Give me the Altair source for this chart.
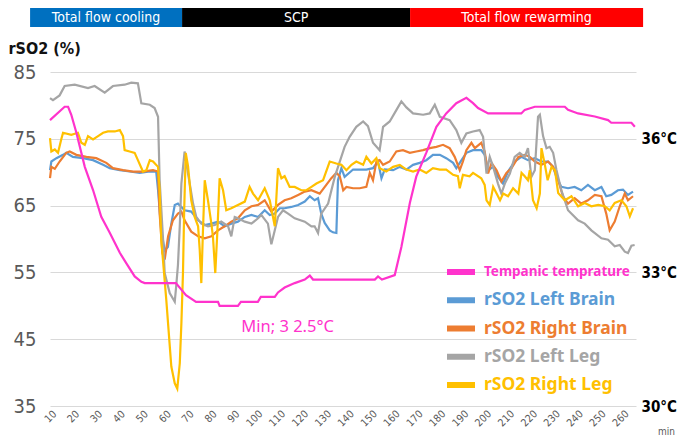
import altair as alt
import pandas as pd

# ---------------- data (minutes, value) ----------------
X_TICKS = list(range(10, 261, 10))
Y_TICKS = [35, 45, 55, 65, 75, 85]
TEMP_TICKS = [30, 33, 36]

# tympanic temperature (deg C)
TEMP = [(8, 36.42), (14.4, 36.72), (15.9, 36.72), (17.3, 36.54), (19.5, 36.14), (23.2, 35.37),
        (26.8, 34.85), (30.4, 34.25), (34.1, 33.89), (38.5, 33.44), (41.3, 33.21), (45.0, 32.91),
        (47.9, 32.79), (49.4, 32.76), (63.0, 32.76), (67.4, 32.49), (71.8, 32.34), (81.4, 32.34),
        (82.1, 32.25), (90.1, 32.25), (91.4, 32.34), (98.8, 32.34), (100.1, 32.45), (106.2, 32.45),
        (107.6, 32.55), (110.5, 32.66), (114.9, 32.76), (119.3, 32.84), (121.5, 32.93), (122.9, 32.84),
        (149.9, 32.84), (151.3, 32.91), (153.0, 32.84), (158.6, 32.94), (161.5, 33.57), (165.2, 34.56),
        (168.0, 35.15), (172.4, 35.69), (176.8, 36.27), (181.1, 36.57), (185.5, 36.80), (189.9, 36.92),
        (192.8, 36.80), (195.0, 36.69), (199.4, 36.57), (213.9, 36.57), (215.4, 36.65), (219.8, 36.72),
        (232.9, 36.72), (234.3, 36.65), (238.7, 36.57), (246.0, 36.50), (251.8, 36.42), (253.2, 36.36),
        (262.0, 36.36), (263.5, 36.27)]

LEFT_BRAIN = [(8, 70.3), (8.6, 71.6), (10.8, 72.1), (13.7, 72.6), (15.1, 72.9), (18.0, 72.3), (22.4, 72.1),
              (26.8, 71.8), (31.2, 71.1), (34.1, 70.6), (38.5, 70.3), (42.8, 70.1), (47.2, 69.9), (51.6, 70.1),
              (54.4, 70.1), (55.2, 67.3), (56.6, 61.3), (58.1, 58.3), (59.5, 58.8), (61.0, 62.3), (62.5, 65.1),
              (63.9, 65.3), (65.4, 64.8), (66.8, 64.3), (69.7, 64.1), (72.7, 62.8), (75.6, 62.1), (78.5, 62.3),
              (81.4, 62.6), (84.3, 61.9), (87.2, 62.3), (90.1, 62.6), (93.1, 63.3), (96.0, 63.6), (98.9, 63.3),
              (101.8, 64.3), (104.0, 63.6), (106.2, 63.8), (108.4, 64.6), (110.5, 64.6), (113.4, 64.8),
              (116.4, 65.1), (119.3, 65.6), (121.5, 66.4), (123.6, 65.8), (125.1, 66.1), (126.5, 63.8),
              (128.0, 62.4), (130.2, 61.3), (131.6, 61.0), (133.1, 60.9), (133.8, 68.8), (135.3, 70.6),
              (136.7, 69.3), (140.4, 70.4), (143.3, 70.4), (146.2, 70.4), (149.1, 70.6), (151.3, 71.6),
              (152.8, 69.1), (154.2, 70.4), (157.9, 70.3), (160.8, 70.8), (163.7, 70.4), (166.6, 71.1),
              (169.5, 71.4), (172.4, 71.8), (175.3, 72.6), (178.3, 72.6), (181.1, 72.1), (184.1, 71.4),
              (185.5, 70.6), (187.0, 71.4), (189.9, 72.9), (192.8, 73.3), (196.4, 73.3), (197.9, 72.6),
              (199.4, 70.3), (201.6, 70.8), (203.7, 69.3), (205.9, 68.3), (208.1, 70.1), (211.0, 71.6),
              (213.9, 72.3), (216.8, 71.8), (219.8, 72.1), (222.7, 71.6), (225.6, 71.6), (227.8, 70.8),
              (229.2, 69.3), (231.4, 67.8), (234.3, 67.6), (237.2, 67.8), (240.1, 67.3), (243.0, 68.1),
              (246.0, 67.3), (248.9, 67.8), (251.0, 66.4), (253.2, 66.6), (256.1, 67.3), (258.3, 67.4),
              (260.5, 66.6), (262.7, 67.1)]

RIGHT_BRAIN = [(8, 69.1), (8.6, 70.8), (10.1, 70.5), (12.2, 71.6), (15.1, 72.9), (16.6, 73.1), (19.5, 72.6),
               (23.9, 72.3), (28.2, 72.1), (32.6, 71.4), (35.5, 70.6), (39.9, 70.3), (44.3, 70.1), (48.6, 70.1),
               (53.0, 70.3), (55.2, 70.1), (55.9, 63.8), (57.1, 57.9), (58.1, 56.9), (59.6, 60.4), (61.7, 62.8),
               (63.9, 63.8), (65.4, 64.1), (66.8, 62.8), (69.7, 61.1), (72.7, 60.4), (75.6, 60.1), (78.5, 60.4),
               (81.4, 61.3), (84.3, 61.9), (87.2, 62.6), (90.1, 63.1), (93.1, 64.3), (96.0, 64.9), (98.9, 65.1),
               (101.8, 65.8), (104.7, 64.1), (107.6, 65.1), (110.5, 65.8), (113.4, 66.1), (116.4, 66.6),
               (119.3, 67.1), (122.2, 67.3), (125.8, 66.8), (128.7, 68.1), (130.9, 69.1), (133.1, 69.9),
               (134.6, 69.4), (136.1, 67.3), (137.5, 67.8), (140.4, 67.6), (143.3, 67.6), (146.2, 67.8),
               (147.7, 69.9), (149.1, 68.8), (150.6, 71.6), (152.0, 71.8), (153.5, 71.1), (156.4, 71.6),
               (159.3, 73.1), (162.2, 73.3), (165.2, 72.9), (168.0, 73.1), (171.0, 73.3), (173.9, 73.6),
               (176.8, 73.8), (179.7, 74.1), (182.6, 73.6), (184.8, 72.3), (187.0, 70.3), (188.4, 71.6),
               (189.9, 73.3), (192.1, 74.4), (193.6, 73.6), (196.4, 74.4), (197.9, 73.1), (199.4, 69.8),
               (200.9, 71.4), (203.1, 70.3), (205.2, 68.6), (207.4, 69.9), (209.6, 70.6), (212.6, 72.3),
               (215.4, 72.6), (217.6, 72.3), (219.8, 71.6), (222.7, 71.1), (225.6, 71.6), (227.8, 70.8),
               (230.0, 68.8), (232.1, 66.4), (234.3, 65.3), (237.2, 66.1), (240.1, 65.3), (243.0, 65.8),
               (246.0, 66.6), (248.9, 66.4), (251.0, 63.8), (252.5, 61.3), (254.7, 62.6), (256.9, 64.9),
               (259.1, 66.8), (260.5, 65.8), (262.7, 66.4)]

LEFT_LEG = [(8, 81.1), (9.3, 80.8), (12.2, 81.5), (14.4, 82.9), (18.8, 83.1), (24.6, 82.6), (27.5, 82.9),
            (31.9, 81.9), (35.5, 82.9), (40.6, 83.1), (43.5, 83.4), (46.4, 83.3), (47.9, 80.3), (51.6, 80.1),
            (53.7, 79.6), (55.2, 78.3), (55.9, 68.8), (57.4, 59.9), (58.1, 54.9), (60.3, 51.9), (62.5, 50.6),
            (63.2, 53.2), (63.9, 56.1), (64.7, 62.0), (65.4, 68.3), (66.8, 73.1), (68.3, 69.8), (70.5, 65.3),
            (71.9, 63.3), (74.1, 62.3), (77.0, 61.9), (80.0, 62.1), (82.8, 62.6), (85.8, 61.9), (87.2, 60.4),
            (88.7, 63.3), (90.1, 63.1), (93.1, 62.6), (96.0, 62.3), (98.9, 63.1), (100.3, 63.6), (103.2, 62.3),
            (104.7, 59.2), (106.2, 61.3), (107.6, 63.3), (109.8, 64.3), (112.0, 63.8), (114.9, 63.1),
            (119.3, 62.6), (122.2, 61.9), (123.6, 61.9), (125.1, 60.9), (126.5, 63.8), (129.5, 65.3),
            (132.4, 69.3), (136.7, 73.8), (138.9, 75.3), (141.8, 76.8), (144.8, 77.6), (146.9, 76.9),
            (149.1, 74.4), (152.0, 73.3), (153.5, 76.8), (156.4, 77.6), (159.3, 79.3), (161.5, 80.6),
            (163.7, 79.7), (166.6, 78.8), (171.0, 78.6), (173.9, 78.8), (176.1, 80.1), (178.3, 78.3),
            (182.6, 77.8), (185.5, 76.3), (187.7, 74.4), (189.9, 75.8), (192.8, 76.1), (195.7, 76.3),
            (197.2, 75.3), (198.7, 69.8), (200.1, 72.3), (201.6, 70.8), (203.7, 68.3), (205.2, 66.8),
            (206.7, 68.3), (208.9, 69.8), (211.0, 72.3), (213.2, 72.9), (215.4, 72.3), (216.8, 73.6),
            (218.3, 69.3), (219.8, 70.3), (221.2, 78.3), (222.0, 78.6), (223.4, 75.4), (224.9, 73.6),
            (226.3, 73.8), (227.8, 72.9), (229.2, 70.4), (231.4, 67.3), (234.3, 64.3), (238.7, 62.8),
            (241.6, 62.3), (244.5, 61.3), (248.9, 60.1), (251.8, 59.9), (254.7, 58.9), (256.9, 59.1),
            (259.1, 58.1), (260.5, 57.9), (262.0, 59.0), (263.4, 59.1)]

RIGHT_LEG = [(8, 75.1), (8.6, 73.1), (10.1, 73.4), (11.5, 72.9), (12.9, 74.9), (13.7, 75.9), (17.3, 75.6),
             (20.2, 75.9), (21.7, 74.4), (23.2, 74.1), (24.6, 75.4), (26.8, 74.9), (29.0, 75.4), (31.2, 75.9),
             (33.3, 76.1), (36.3, 76.1), (38.5, 76.3), (39.9, 75.4), (40.6, 73.3), (42.8, 73.1), (45.0, 72.9),
             (46.4, 71.8), (48.6, 70.1), (50.1, 70.3), (51.6, 71.8), (53.0, 71.6), (55.2, 70.8), (55.9, 67.3),
             (56.6, 59.9), (58.8, 50.9), (61.0, 40.9), (62.5, 38.4), (63.6, 37.6), (64.7, 41.4), (65.4, 47.4),
             (66.1, 55.0), (66.6, 64.0), (67.3, 72.9), (68.3, 70.9), (69.7, 65.8), (71.2, 63.3), (72.7, 61.9),
             (73.4, 58.4), (74.1, 53.4), (74.8, 61.0), (75.6, 68.8), (77.0, 65.8), (78.5, 62.3), (79.2, 60.3),
             (80.2, 54.9), (81.1, 61.0), (82.1, 69.1), (83.6, 67.3), (85.0, 64.3), (87.2, 64.6), (90.1, 65.1),
             (93.1, 65.6), (95.2, 67.8), (96.7, 66.8), (98.9, 65.8), (101.8, 67.6), (104.0, 65.8), (106.2, 61.9),
             (107.6, 70.6), (109.1, 69.1), (110.5, 69.4), (112.7, 67.8), (114.9, 67.8), (117.8, 67.3),
             (120.0, 67.3), (122.2, 67.8), (124.4, 68.3), (127.3, 68.8), (130.2, 71.6), (133.1, 71.3),
             (135.3, 71.1), (137.5, 70.3), (139.7, 71.1), (141.8, 71.6), (144.8, 71.1), (146.2, 72.3),
             (148.4, 71.3), (150.6, 72.1), (152.0, 70.6), (154.9, 70.1), (157.9, 70.8), (160.8, 71.1),
             (163.7, 70.4), (166.6, 70.1), (169.5, 70.4), (172.4, 69.9), (175.3, 70.6), (178.3, 70.4),
             (181.1, 70.4), (184.1, 69.6), (186.2, 69.4), (187.0, 67.6), (188.4, 69.6), (191.3, 69.4),
             (192.8, 69.9), (196.4, 69.1), (197.9, 68.1), (198.7, 65.8), (200.1, 65.1), (201.6, 67.8),
             (203.1, 66.8), (204.6, 65.8), (206.0, 66.8), (208.1, 66.4), (210.3, 67.6), (212.6, 66.8),
             (214.0, 69.9), (215.4, 69.4), (216.8, 68.8), (217.6, 70.3), (219.0, 65.8), (220.6, 64.6),
             (222.0, 66.8), (222.7, 73.6), (224.2, 71.1), (225.4, 68.8), (227.1, 70.8), (228.6, 70.3),
             (230.0, 66.9), (232.9, 65.8), (235.8, 66.4), (238.7, 64.9), (241.6, 65.4), (244.5, 64.9),
             (247.5, 65.1), (250.4, 64.9), (252.5, 64.3), (254.7, 65.4), (257.6, 65.8), (259.8, 64.9),
             (261.3, 63.4), (262.7, 64.6)]

SERIES_NAMES = ["rSO2 Left Brain", "rSO2 Right Brain", "rSO2 Left Leg", "rSO2 Right Leg"]
SERIES_DATA = [LEFT_BRAIN, RIGHT_BRAIN, LEFT_LEG, RIGHT_LEG]
SERIES_COLORS = ["#5B9BD5", "#ED7D31", "#A5A5A5", "#FFC000"]
TEMP_NAME = "Tempanic temprature"
TEMP_COLOR = "#FF33CC"

LEGEND_LABELS = [TEMP_NAME] + SERIES_NAMES
LEGEND_COLORS = [TEMP_COLOR] + SERIES_COLORS
LEGEND_SIZES = [13.5, 17.5, 17.5, 17.5, 17.5]

PHASES = ["Total flow cooling", "SCP", "Total flow rewarming"]
PHASE_START = [-0.7, 65.7, 165.3]
PHASE_END = [65.7, 165.3, 267.1]
PHASE_COLORS = ["#0070C0", "#000000", "#FF0000"]

MIN_NOTE = "Min; 3 2.5°C"
MIN_NOTE_AT = (111.8, 46.8)

# ---------------- chart ----------------
FONT = "DejaVu Sans Condensed"
x_scale = alt.Scale(domain=[8, 264], nice=False, zero=False)
y_scale = alt.Scale(domain=[35, 85], nice=False, zero=False)

x_axis = alt.Axis(values=X_TICKS, labelAngle=-45, grid=False, domain=False, ticks=False,
                  labelFontSize=10.5, labelColor="#595959", labelPadding=6, title=None,
                  labelFont=FONT, labelOverlap=False, labelAlign="right", labelBaseline="middle")


def xq(field):
    return alt.X(field, type="quantitative", scale=x_scale, axis=x_axis)


layers = []
for i, (name, pts, col) in enumerate(zip(SERIES_NAMES, SERIES_DATA, SERIES_COLORS)):
    d = pd.DataFrame(pts, columns=["min", "value"])
    d["order"] = range(len(d))
    if i == 0:
        yax = alt.Axis(values=Y_TICKS, grid=True, gridColor="#D9D9D9", gridWidth=1.2, domain=False,
                       ticks=False, labelFontSize=20, labelColor="#595959", labelFont=FONT,
                       labelPadding=14, title="rSO2 (%)", titleAngle=0, titleAlign="left",
                       titleBaseline="middle", titleX=-42, titleY=-24, titleFontSize=16,
                       titleFontWeight="bold", titleColor="#111111", titleFont=FONT)
    else:
        yax = None
    layers.append(
        alt.Chart(d).mark_line(color=col, strokeWidth=2.2).encode(
            x=xq("min"),
            y=alt.Y("value:Q", scale=y_scale, axis=yax),
            order="order:Q",
        )
    )

temp_df = pd.DataFrame(TEMP, columns=["min", "temp"])
temp_df["order"] = range(len(temp_df))
layers.append(
    alt.Chart(temp_df).mark_line(color=TEMP_COLOR, strokeWidth=2.2).encode(
        x=xq("min"),
        y=alt.Y("temp:Q", scale=alt.Scale(domain=[30, 37.5], nice=False, zero=False),
                axis=alt.Axis(orient="right", values=TEMP_TICKS, labelExpr="datum.value + '°C'",
                              grid=False, domain=False, ticks=False, labelFontSize=15,
                              labelFontWeight="bold", labelColor="#000000", labelPadding=5,
                              title=None, labelFont=FONT)),
        order="order:Q",
    )
)

# phase bar
phase_df = pd.DataFrame({"phase": PHASES, "start": PHASE_START, "end": PHASE_END})
phase_df["mid"] = (phase_df["start"] + phase_df["end"]) / 2
phase_fill = alt.Fill("phase:N", scale=alt.Scale(domain=PHASES, range=PHASE_COLORS), legend=None)
layers.append(
    alt.Chart(phase_df).mark_rect().encode(
        x=xq("start"), x2="end:Q",
        y=alt.value(-64), y2=alt.value(-45), fill=phase_fill)
)
layers.append(
    alt.Chart(phase_df).mark_text(color="white", fontSize=14, font=FONT, baseline="middle").encode(
        x=xq("mid"), y=alt.value(-54), text="phase:N")
)

# legend
leg_df = pd.DataFrame({"label": LEGEND_LABELS, "color": LEGEND_COLORS, "fs": LEGEND_SIZES})
leg_y = alt.Y("label:N", scale=alt.Scale(type="point", domain=LEGEND_LABELS, range=[200, 313], padding=0),
              axis=None)
leg_color = alt.Color("label:N", scale=alt.Scale(domain=LEGEND_LABELS, range=LEGEND_COLORS), legend=None)
layers.append(
    alt.Chart(leg_df).mark_rule(strokeWidth=6).encode(
        x=alt.value(397), x2=alt.value(425), y=leg_y, color=leg_color)
)
layers.append(
    alt.Chart(leg_df).mark_text(align="left", baseline="middle", font="Noto Sans", fontWeight="bold").encode(
        x=alt.value(434), y=leg_y, color=leg_color, text="label:N",
        size=alt.Size("fs:Q", scale=None))
)

# annotations
note_df = pd.DataFrame({"min": [MIN_NOTE_AT[0]], "value": [MIN_NOTE_AT[1]], "text": [MIN_NOTE]})
layers.append(
    alt.Chart(note_df).mark_text(color=TEMP_COLOR, fontSize=16.5, font="Noto Sans").encode(
        x=xq("min"), y=alt.Y("value:Q", scale=y_scale, axis=None), text="text:N")
)
unit_df = pd.DataFrame({"text": ["min"]})
layers.append(
    alt.Chart(unit_df).mark_text(color="#595959", fontSize=10, align="left", font=FONT).encode(
        x=alt.value(608), y=alt.value(360), text="text:N")
)

chart = alt.layer(*layers).resolve_scale(y="independent", color="independent").properties(
    width=586, height=334,
    autosize=alt.AutoSizeParams(type="none"),
    padding={"left": 42, "top": 64, "right": 41, "bottom": 30},
    background="white",
).configure_view(stroke=None)

chart.save("out.html", embed_options={"renderer": "svg", "actions": False})
